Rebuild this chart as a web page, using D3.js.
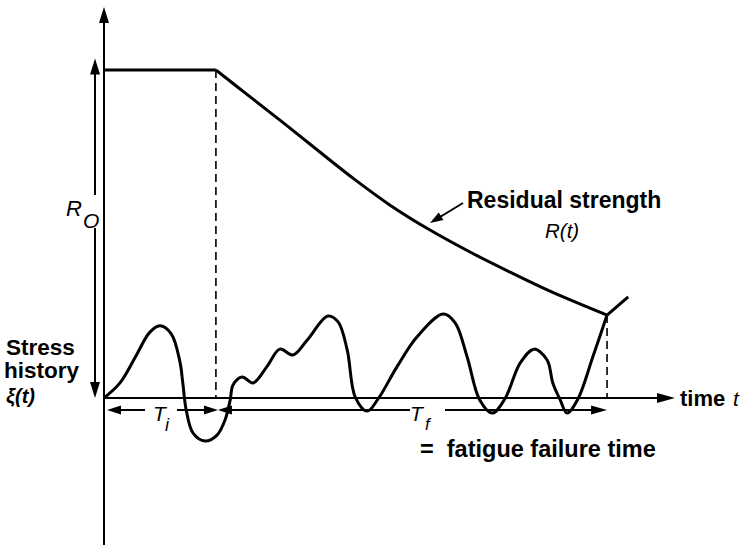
<!DOCTYPE html>
<html>
<head>
<meta charset="utf-8">
<script src="https://cdn.jsdelivr.net/npm/d3@7/dist/d3.min.js"></script>
<style>
  html, body { margin: 0; padding: 0; background: #fff; }
  svg { display: block; }
  .bold { font-family: "Liberation Sans", Arial, sans-serif; font-weight: bold; }
  .ital { font-family: "Liberation Sans", Arial, sans-serif; font-style: italic; }
</style>
</head>
<body>
<svg id="chart" width="744" height="545"></svg>
<script>
// Initial strength R0 and the two characteristic times
const initialStrength = 100;
const initiationTime = 19.6;   // T_i
const failureTime = 88.1;      // T_i + T_f

// Residual strength R(t) after crack initiation (decay branch)
const decayTime     = [19.6, 25.6, 31.7, 37.8, 44.0, 50.1, 57.1, 64.1, 71.1, 78.1, 88.1];
const decayStrength = [100, 91.8, 83.5, 75.0, 66.5, 58.8, 51.2, 44.5, 38.4, 32.6, 25.3];

// Short branch after failure
const ruptureTime     = [88.1, 91.8];
const ruptureStrength = [25.3, 30.8];

// Stress history xi(t)
const stressTime = [0, 2.8, 5.5, 8.0, 9.8, 11.8, 13.3, 13.8, 14.4, 15.6, 17.7, 19.8, 21.2, 22.1,
  22.6, 24.2, 26.1, 28.5, 30.8, 33.1, 35.6, 39.2, 41.0, 42.6, 44.0, 46.1, 48.0, 51.3, 54.8,
  59.4, 61.5, 63.6, 65.8, 68.0, 70.2, 72.9, 75.3, 77.6, 78.6, 79.9, 81.1, 83.0, 85.6, 88.1];
const stressValue = [0, 4.6, 12.5, 20.0, 22.0, 19.5, 11.0, 4.6, -3.7, -10.7, -13.1, -11.3, -6.7, -0.6,
  4.0, 6.4, 4.6, 9.5, 14.9, 13.1, 17.7, 25.0, 23.2, 14.6, 0.3, -4.0, -0.3, 9.5, 18.6,
  25.6, 22.9, 12.5, -0.6, -4.6, -0.3, 10.7, 14.9, 11.6, 4.6, -0.6, -4.6, -0.3, 12.5, 25.3];

// Axis extents
const timeMax = 100;
const valueTop = 119.2;
const valueBottom = -44.8;

const svg = d3.select("#chart");
const x = d3.scaleLinear().domain([0, 100]).range([104, 675]);
const y = d3.scaleLinear().domain([0, 100]).range([398, 70]);

// filled arrowhead pointing along angle (radians) with tip at (tx, ty)
function arrowHead(tx, ty, angle, len, half) {
  const bx = tx - len * Math.cos(angle), by = ty - len * Math.sin(angle);
  const px = -Math.sin(angle) * half, py = Math.cos(angle) * half;
  svg.append("path")
    .attr("d", `M${tx},${ty}L${bx + px},${by + py}L${bx - px},${by - py}Z`)
    .attr("fill", "#000");
}
function seg(x1, y1, x2, y2, w) {
  return svg.append("line").attr("x1", x1).attr("y1", y1).attr("x2", x2).attr("y2", y2)
    .attr("stroke", "#000").attr("stroke-width", w);
}
function label(cls, px, py, size, str) {
  return svg.append("text").attr("class", cls).attr("x", px).attr("y", py)
    .attr("font-size", size).text(str);
}

// value axis
seg(x(0), y(valueBottom), x(0), y(valueTop) + 14, 2);
arrowHead(x(0), y(valueTop), -Math.PI / 2, 16, 5);

// time axis
seg(x(0), y(0), x(timeMax) - 14, y(0), 2);
arrowHead(x(timeMax), y(0), 0, 18, 5);

// dashed markers at T_i and failure
svg.append("line")
  .attr("x1", x(initiationTime)).attr("x2", x(initiationTime))
  .attr("y1", y(initialStrength)).attr("y2", y(0))
  .attr("stroke", "#000").attr("stroke-width", 1.6).attr("stroke-dasharray", "8,5");
svg.append("line")
  .attr("x1", x(failureTime)).attr("x2", x(failureTime))
  .attr("y1", y(ruptureStrength[0])).attr("y2", y(0))
  .attr("stroke", "#000").attr("stroke-width", 1.6).attr("stroke-dasharray", "8,5");

// residual strength curve
const lin = d3.line().x(d => x(d[0])).y(d => y(d[1]));
const smooth = d3.line().x(d => x(d[0])).y(d => y(d[1])).curve(d3.curveCatmullRom.alpha(0.5));
svg.append("path").attr("d", lin([[0, initialStrength], [initiationTime, initialStrength]]))
  .attr("fill", "none").attr("stroke", "#000").attr("stroke-width", 3);
svg.append("path").attr("d", smooth(d3.zip(decayTime, decayStrength)))
  .attr("fill", "none").attr("stroke", "#000").attr("stroke-width", 3);
svg.append("path").attr("d", lin(d3.zip(ruptureTime, ruptureStrength)))
  .attr("fill", "none").attr("stroke", "#000").attr("stroke-width", 3);

// stress history
svg.append("path").attr("d", smooth(d3.zip(stressTime, stressValue)))
  .attr("fill", "none").attr("stroke", "#000").attr("stroke-width", 3)
  .attr("stroke-linejoin", "round");

// R0 double arrow with gap for its label
const r0x = x(0) - 9;
seg(r0x, y(103.5) + 12, r0x, 195, 2);
seg(r0x, 228, r0x, y(0) - 12, 2);
arrowHead(r0x, y(103.5), -Math.PI / 2, 16, 5);
arrowHead(r0x, y(0), Math.PI / 2, 16, 5);
label("ital", 66, 216, 22, "R");
label("ital", 83, 228, 21, "O");

// T_i and T_f span arrows
const spanY = 410;
seg(x(0) + 10, spanY, 145, spanY, 2);
arrowHead(x(0) + 3, spanY, Math.PI, 14, 4.5);
seg(177, spanY, x(initiationTime) - 10, spanY, 2);
arrowHead(x(initiationTime) + 2, spanY, 0, 14, 4.5);
arrowHead(x(initiationTime) + 2, spanY, Math.PI, 14, 4.5);
seg(x(initiationTime) + 12, spanY, 410, spanY, 2);
seg(445, spanY, x(failureTime) - 10, spanY, 2);
arrowHead(x(failureTime), spanY, 0, 16, 4.5);

label("ital", 153, 421, 21, "T");
label("ital", 165, 431, 18, "i");
label("ital", 410, 421, 21, "T");
label("ital", 425, 430, 17, "f");

label("bold", 420, 457, 23.5, "=  fatigue failure time").attr("xml:space", "preserve");

// time axis label
label("bold", 680, 406, 22, "time");
label("ital", 733, 406, 21, "t");

// residual strength label with pointer
label("bold", 467, 208, 23, "Residual strength");
label("ital", 545, 238, 20.5, "R(t)");
seg(463, 203, 440, 217, 2);
arrowHead(430, 223, Math.atan2(20, -33), 13, 4.5);

// stress history label
label("bold", 6, 355, 22.5, "Stress");
label("bold", 4, 378, 22.5, "history");
label("bold", 6, 403, 20, "ξ(t)").style("font-style", "italic");
</script>
</body>
</html>
